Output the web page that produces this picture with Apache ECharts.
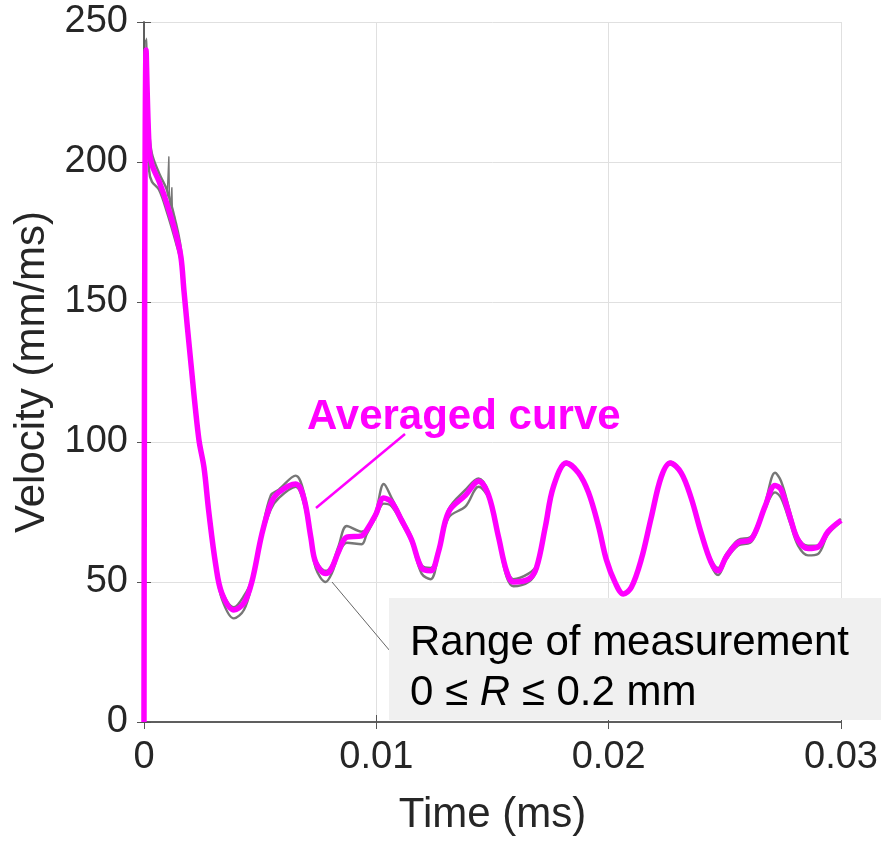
<!DOCTYPE html>
<html>
<head>
<meta charset="utf-8">
<script src="https://cdn.jsdelivr.net/npm/echarts@6/dist/echarts.min.js"></script>
<style>html,body{margin:0;padding:0;background:#fff}#c{width:881px;height:841px}</style>
</head>
<body>
<div id="c"></div>
<script>
// Time (ms)
const time = [0,0.00009,0.00022,0.00034,0.00065,0.00099,0.00138,0.00159,0.00172,0.00202,0.00236,0.00258,0.00279,0.00309,0.00335,0.00387,0.00430,0.00464,0.00507,0.00546,0.00580,0.00653,0.00688,0.00718,0.00739,0.00782,0.00808,0.00838,0.00873,0.00937,0.00958,0.00997,0.01032,0.01066,0.01109,0.01152,0.01195,0.01234,0.01268,0.01311,0.01384,0.01440,0.01483,0.01526,0.01560,0.01590,0.01655,0.01689,0.01728,0.01762,0.01818,0.01870,0.01913,0.01956,0.01990,0.02029,0.02063,0.02097,0.02140,0.02183,0.02226,0.02265,0.02312,0.02355,0.02398,0.02441,0.02471,0.02506,0.02557,0.02609,0.02635,0.02673,0.02716,0.02742,0.02781,0.02815,0.02858,0.02901,0.02944,0.03000];
// Averaged curve (mm/ms)
const averaged = [0,240,205,199,193,185,174,166,154,128,101,91,75,56,46,40,42.5,50,67,78,82,85,80,66,57,53,55,61,66,66.5,68.5,74,80,78.5,72,65,55,54,61,75,81,86,81,66,54,50,51,55,70,84,92.5,89,82,70,58,49.6,45.7,48,58,73,87.5,92.5,89,80,67.5,57,54,59,64,65,68.5,77,84.5,83,73,65,62,62.5,68,72];
// Measured curves, upper and lower of the band (mm/ms)
const measuredHigh = [0,244,212,203,196,190,178,169,156,130,102,92,76,57,47,41,45,51,68,81,83,88,82,67,58,54,56,63,70,68,69,75,85,80,73,66,56,55,62,76,83,87,82,67,55,51,53,56,71,85,93,89.5,82.5,70.5,58.5,50,46,48.5,58.5,73.5,88,93,89.5,80.5,68,58,55,60,65,66,69.5,78,89,86,75,66,63,63,68.5,72.5];
const measuredLow = [0,236,197,193,190,182,171,164,152,126,100,90,74,55,44,37,40,49,66,76,80,84,78,65,55,50,53,60,64,63.5,67,73,78,77,71,64,53,51,60,73,77,84,80,65,52,48.5,50,54,69,83,92,88.5,81.5,69.5,57.5,49,45.4,47.5,57.5,72.5,87,92,88.5,79.5,67,56,52.5,58,63,64,67.5,76,82,80,71,63,59.5,60,67,71.5];
// Early noise spikes of a measured curve
const noiseTime = [0.00090,0.00100,0.00107,0.00110,0.00116,0.00120,0.00124,0.00130,0.00150,0.00163,0.00168];
const noiseValue = [186,188,202,183,186,191,176,181,170,167,158];

const xTicks = {min:0, max:0.03, interval:0.01};
const yTicks = {min:0, max:250, interval:50};

const pair = (xs, ys) => xs.map((x, i) => [x, ys[i]]);
const txt = '#262626';
const axisLine = {show:true, lineStyle:{color:'#555', width:1.5}};
const font = 'Liberation Sans, Arial, sans-serif';

const chart = echarts.init(document.getElementById('c'), null, {renderer:'canvas'});
chart.setOption({
  animation:false,
  backgroundColor:'#fff',
  grid:{left:144, right:37, top:22, bottom:118, containLabel:false},
  xAxis:[{
    type:'value', min:xTicks.min, max:xTicks.max, interval:xTicks.interval,
    name:'Time (ms)', nameLocation:'middle', nameGap:72,
    nameTextStyle:{fontFamily:font, fontSize:42, color:txt},
    axisLine:axisLine, axisTick:{show:true, inside:true, length:7, lineStyle:{color:'#555'}},
    axisLabel:{fontFamily:font, fontSize:38, color:txt, margin:17},
    splitLine:{show:true, lineStyle:{color:'#e0e0e0', width:1}}
  },{
    type:'value', position:'top', min:xTicks.min, max:xTicks.max, interval:xTicks.interval,
    axisLine:axisLine, axisTick:{show:true, inside:true, length:7, lineStyle:{color:'#555'}},
    axisLabel:{show:false}, splitLine:{show:false}
  }],
  yAxis:[{
    type:'value', min:yTicks.min, max:yTicks.max, interval:yTicks.interval,
    name:'Velocity (mm/ms)', nameLocation:'middle', nameGap:90,
    nameTextStyle:{fontFamily:font, fontSize:42, color:txt},
    axisLine:axisLine, axisTick:{show:true, inside:true, length:7, lineStyle:{color:'#555'}},
    axisLabel:{fontFamily:font, fontSize:38, color:txt, margin:16},
    splitLine:{show:true, lineStyle:{color:'#e0e0e0', width:1}}
  },{
    type:'value', position:'right', min:yTicks.min, max:yTicks.max, interval:yTicks.interval,
    axisLine:axisLine, axisTick:{show:true, inside:true, length:7, lineStyle:{color:'#555'}},
    axisLabel:{show:false}, splitLine:{show:false}
  }],
  series:[
    {type:'line', data:pair(time, measuredHigh), smooth:0.35, symbol:'none', lineStyle:{color:'#777', width:2.4}, z:2},
    {type:'line', data:pair(time, measuredLow), smooth:0.35, symbol:'none', lineStyle:{color:'#777', width:2.4}, z:2},
    {type:'line', data:pair(noiseTime, noiseValue), smooth:false, symbol:'none', lineStyle:{color:'#777', width:1.4}, z:2},
    {type:'line', data:pair(time, averaged), smooth:0.35, symbol:'none', lineStyle:{color:'#ff00ff', width:5.5}, z:3}
  ],
  graphic:[
    {type:'line', z:100, shape:{x1:316, y1:508, x2:405, y2:434}, style:{stroke:'#ff00ff', lineWidth:2.5}},
    {type:'text', z:100, left:307, top:396, style:{text:'Averaged curve', fill:'#ff00ff', font:'bold 42px Liberation Sans, Arial, sans-serif'}},
    {type:'line', z:100, shape:{x1:332, y1:582, x2:390, y2:651}, style:{stroke:'#666', lineWidth:1}},
    {type:'rect', z:100, shape:{x:389, y:598, width:492, height:122}, style:{fill:'#f0f0f0'}},
    {type:'text', z:101, left:410, top:618, style:{
      text:'Range of measurement\n0 ≤ {i|R} ≤ 0.2 mm', fill:'#000', lineHeight:50,
      font:'42px Liberation Sans, Arial, sans-serif',
      rich:{i:{fontStyle:'italic', fontSize:42, fontFamily:'Liberation Sans, Arial, sans-serif', fill:'#000', lineHeight:50}}
    }}
  ]
});
</script>
</body>
</html>
